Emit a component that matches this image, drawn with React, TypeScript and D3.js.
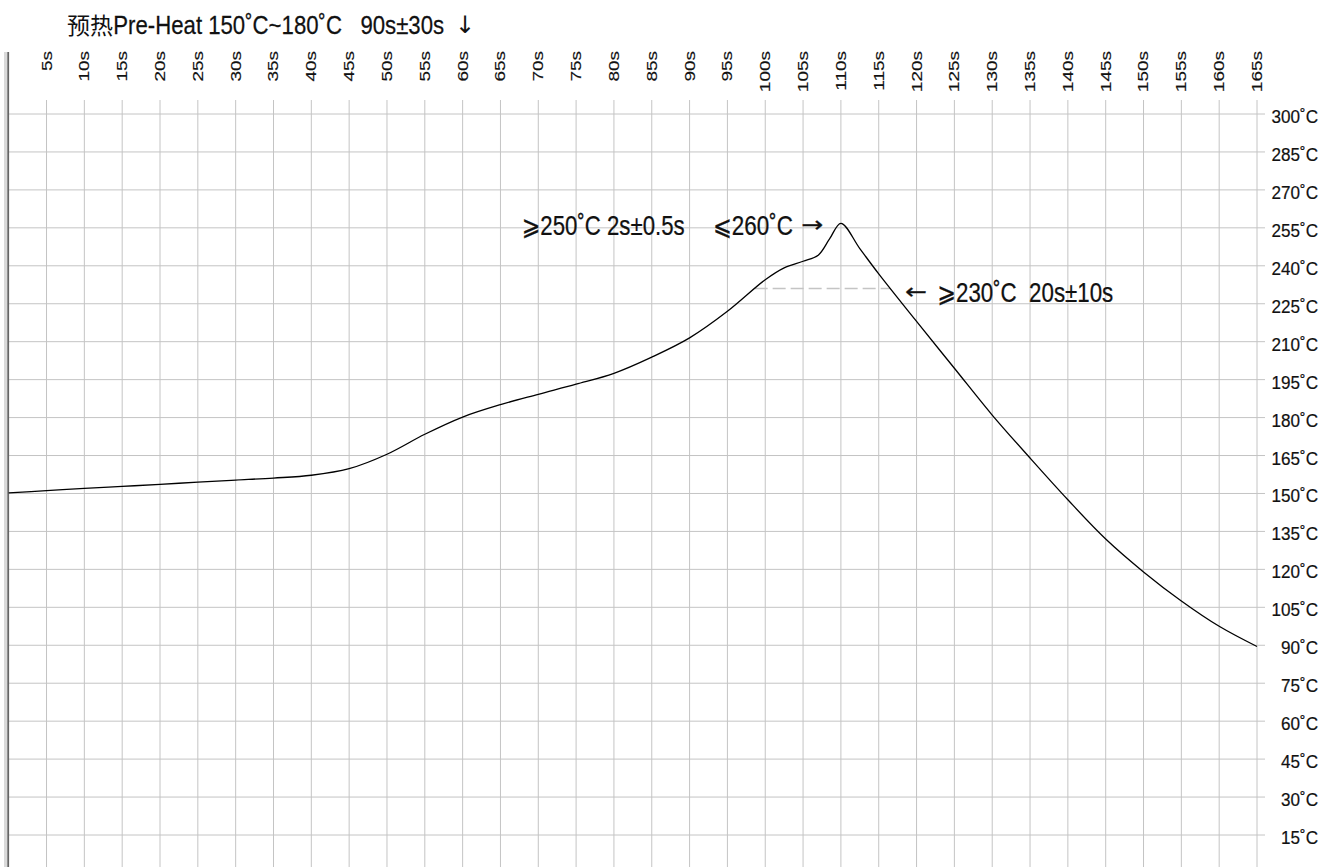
import React, { useLayoutEffect, useRef, useState } from "react";
import * as d3 from "d3";

// ---- data ----
const times = [0, 5, 10, 15, 20, 25, 30, 35, 40, 45, 50, 55, 60, 65, 70, 75, 80, 85, 90, 95, 100, 102.5, 105, 107, 108.5, 110, 112.5, 115, 120, 125, 130, 135, 140, 145, 150, 155, 160, 165];
const temps = [150.2, 151.1, 152.0, 152.8, 153.6, 154.5, 155.3, 156.1, 157.2, 159.8, 165.5, 173.4, 180.2, 185.1, 189.2, 193.2, 197.5, 203.9, 211.5, 222, 234.5, 239.2, 241.8, 244.2, 250.6, 256.8, 246.8, 236.8, 218, 199.5, 181, 164, 147.5, 132, 119, 107.5, 97.5, 89.5];
const timeTicks = d3.range(5, 170, 5);
const tempTicks = d3.range(15, 315, 15);
const dashLevel = 231;

const titleCJK = "预热";
const titleText = "Pre-Heat 150˚C~180˚C   90s±30s";
const note1a = "⩾250˚C 2s±0.5s";
const note1b = "⩽260˚C";
const note2 = "⩾230˚C  20s±10s";
const ARROW_DOWN = "↓";
const ARROW_RIGHT = "→";
const ARROW_LEFT = "←";

const W = 1331;
const H = 867;
const FONT = "'Liberation Sans', Arial, 'DejaVu Sans', sans-serif";
const ARROW_FONT = "'DejaVu Sans'";

function crossings(level: number): number[] {
  const out: number[] = [];
  for (let i = 0; i < times.length - 1; i++) {
    const a = temps[i], b = temps[i + 1];
    if ((a - level) * (b - level) < 0) {
      out.push(times[i] + ((level - a) / (b - a)) * (times[i + 1] - times[i]));
    }
  }
  return out;
}

type FitProps = {
  x: number;
  y: number;
  width: number;
  fontSize: number;
  fontFamily: string;
  text: string;
};

function FitText({ x, y, width, fontSize, fontFamily, text }: FitProps) {
  const ref = useRef<SVGTextElement>(null);
  const [s, setS] = useState(1);
  useLayoutEffect(() => {
    if (ref.current) {
      const w = ref.current.getComputedTextLength();
      if (w > 0) setS(width / w);
    }
  }, [width, text]);
  return (
    <text
      ref={ref}
      transform={`translate(${x},${y}) scale(${s},1)`}
      fontFamily={fontFamily}
      fontSize={fontSize}
      fill="#111"
      stroke="#111"
      strokeWidth={0.25}
      style={{ whiteSpace: "pre" }}
    >
      {text}
    </text>
  );
}

export default function App() {
  const x = d3.scaleLinear().domain([0, 165]).range([8.7, 1257]);
  const y = d3.scaleLinear().domain([15, 300]).range([835, 114]);

  const line = d3
    .line<number>()
    .x((_, i) => x(times[i]))
    .y((d) => y(d))
    .curve(d3.curveCatmullRom.alpha(0.5));

  const cr = crossings(dashLevel);
  const dashStart = cr[0];
  const dashEnd = cr[cr.length - 1];

  return (
    <svg
      width={W}
      height={H}
      style={{ position: "absolute", left: 0, top: 0, display: "block", background: "#fff" }}
    >
      <rect x={0} y={0} width={W} height={H} fill="#fff" />
      {/* vertical grid */}
      {timeTicks.map((t) => (
        <line key={"v" + t} x1={x(t)} x2={x(t)} y1={100} y2={H} stroke="#c4c4c4" strokeWidth={1} />
      ))}
      {/* horizontal grid */}
      {tempTicks.map((v) => (
        <line key={"h" + v} x1={8} x2={1265} y1={y(v)} y2={y(v)} stroke="#c4c4c4" strokeWidth={1} />
      ))}
      {/* left axis */}
      <rect x={4} y={52} width={3.3} height={H - 52} fill="#dadada" />
      <rect x={7.3} y={52} width={1.8} height={H - 52} fill="#666" />

      {/* top tick labels */}
      {timeTicks.map((t) => (
        <text
          key={"tl" + t}
          transform={`translate(${x(t) - 0.5},51) scale(0.8,1) rotate(-90)`}
          textAnchor="end"
          dy="0.36em"
          fontFamily={FONT}
          fontSize={19}
          fill="#111"
          stroke="#111"
          strokeWidth={0.2}
        >
          {t + "s"}
        </text>
      ))}

      {/* right tick labels */}
      {tempTicks.map((v) => (
        <text
          key={"rl" + v}
          transform={`translate(1318,${y(v) + 9}) scale(0.9,1)`}
          textAnchor="end"
          fontFamily={FONT}
          fontSize={19}
          fill="#111"
          stroke="#111"
          strokeWidth={0.2}
        >
          {v + "˚C"}
        </text>
      ))}

      {/* dashed 230 level */}
      <line
        x1={x(dashStart)}
        x2={x(dashEnd)}
        y1={y(dashLevel)}
        y2={y(dashLevel)}
        stroke="#c4c4c4"
        strokeWidth={1.5}
        strokeDasharray="13 5"
      />

      {/* curve */}
      <path d={line(temps) || ""} fill="none" stroke="#000" strokeWidth={1.3} />

      {/* title */}
      <text x={67} y={34.3} fontFamily="'Noto Sans CJK SC', sans-serif" fontSize={23} fill="#111">
        {titleCJK}
      </text>
      <FitText x={113.3} y={34.3} width={331} fontSize={26} fontFamily={FONT} text={titleText} />
      <text x={465} y={33} textAnchor="middle" fontFamily={ARROW_FONT} fontSize={24} fill="#111">
        {ARROW_DOWN}
      </text>

      {/* annotations */}
      <FitText x={521.7} y={235} width={163} fontSize={27} fontFamily={FONT} text={note1a} />
      <FitText x={713} y={235} width={80} fontSize={27} fontFamily={FONT} text={note1b} />
      <FitText x={801.5} y={232} width={22} fontSize={22} fontFamily={ARROW_FONT} text={ARROW_RIGHT} />
      <FitText x={905} y={298.5} width={22} fontSize={22} fontFamily={ARROW_FONT} text={ARROW_LEFT} />
      <FitText x={937.3} y={301.7} width={176} fontSize={27} fontFamily={FONT} text={note2} />
    </svg>
  );
}
